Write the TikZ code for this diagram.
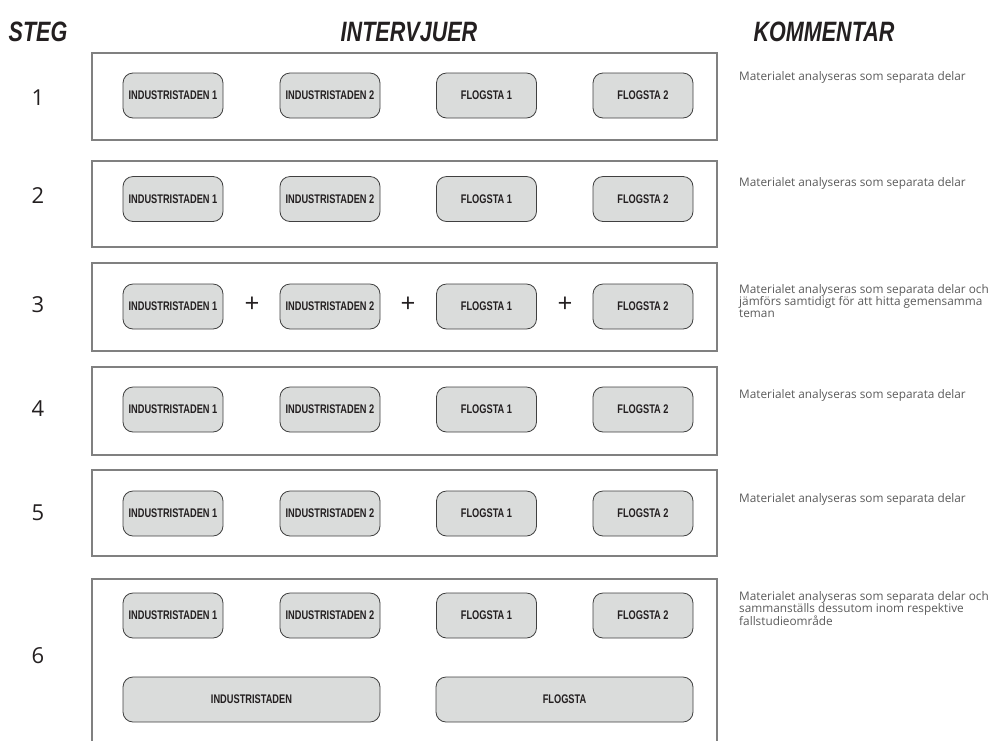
\documentclass[tikz,border=0pt]{standalone}
\usepackage{fontspec}
\setmainfont{Open Sans}
\newfontfamily\hdfont{Liberation Sans}[FakeStretch=0.77]
\newfontfamily\ndfont{Liberation Sans}[FakeStretch=0.74]
\newfontfamily\cmfont{Open Sans}
\newfontfamily\numfont{Open Sans}
\definecolor{frame}{HTML}{808080}
\definecolor{ndfill}{HTML}{DADCDB}
\definecolor{ndline}{HTML}{404040}
\definecolor{txt}{HTML}{231F20}
\definecolor{cmtxt}{HTML}{5A5A5A}
\tikzset{
  header/.style={font=\hdfont\bfseries\itshape\fontsize{28}{30}\selectfont, text=txt, inner sep=0pt},
  stepnum/.style={font=\numfont\fontsize{22}{24}\selectfont, text=txt, inner sep=0pt},
  rowframe/.style={draw=frame, line width=1.2pt},
  ivbox/.style={draw=ndline, fill=ndfill, line width=0.8pt, rounded corners=10pt,
    minimum width=100pt, minimum height=45pt, inner sep=0pt,
    font=\ndfont\bfseries\fontsize{12.5}{13}\selectfont, text=txt},
  bigbox/.style={ivbox, minimum width=257pt},
  plussign/.style={font=\numfont\fontsize{26}{28}\selectfont, text=txt, inner sep=0pt},
  comment/.style={font=\cmfont\fontsize{11.8}{12}\selectfont, text=cmtxt, inner sep=0pt, anchor=base west, align=left}
}
\begin{document}
\begin{tikzpicture}[x=1pt,y=-1pt]
\useasboundingbox (0,0) rectangle (997,740);
% headers
\node[header] (hsteg) at (38,32) {STEG};
\node[header] (hint) at (409,32) {INTERVJUER};
\node[header] (hkom) at (824,32) {KOMMENTAR};
% row frames
\draw[rowframe] (92,53) rectangle (717,140);
\draw[rowframe] (92,161) rectangle (717,247);
\draw[rowframe] (92,263) rectangle (717,351);
\draw[rowframe] (92,367) rectangle (717,455);
\draw[rowframe] (92,470) rectangle (717,556);
\draw[rowframe] (92,745) -- (92,579) -- (717,579) -- (717,745);
% step numbers
\node[stepnum] (s1) at (38,98) {1};
\node[stepnum] (s2) at (38,196) {2};
\node[stepnum] (s3) at (38,305) {3};
\node[stepnum] (s4) at (38,409) {4};
\node[stepnum] (s5) at (38,513) {5};
\node[stepnum] (s6) at (38,656) {6};
% interview boxes
\foreach \r/\y in {1/95.5,2/199,3/306.5,4/409.5,5/513.5,6/615.5}{
  \node[ivbox] (i1r\r) at (173,\y) {INDUSTRISTADEN 1};
  \node[ivbox] (i2r\r) at (330,\y) {INDUSTRISTADEN 2};
  \node[ivbox] (f1r\r) at (486.5,\y) {FLOGSTA 1};
  \node[ivbox] (f2r\r) at (643,\y) {FLOGSTA 2};
}
% plus signs in row 3
\node[plussign] (p1) at (252,305) {+};
\node[plussign] (p2) at (408,305) {+};
\node[plussign] (p3) at (565,305) {+};
% combined boxes row 6
\node[bigbox] (ind) at (251.5,699.5) {INDUSTRISTADEN};
\node[bigbox] (flo) at (564.5,699.5) {FLOGSTA};
% comments
\node[comment] (c1) at (739,80) {Materialet analyseras som separata delar};
\node[comment] (c2) at (739,186) {Materialet analyseras som separata delar};
\node[comment] (c3) at (739,317.6) {Materialet analyseras som separata delar och\\jämförs samtidigt för att hitta gemensamma\\teman};
\node[comment] (c4) at (739,398) {Materialet analyseras som separata delar};
\node[comment] (c5) at (739,502) {Materialet analyseras som separata delar};
\node[comment] (c6) at (739,625.6) {Materialet analyseras som separata delar och\\sammanställs dessutom inom respektive\\fallstudieområde};
\end{tikzpicture}
\end{document}
